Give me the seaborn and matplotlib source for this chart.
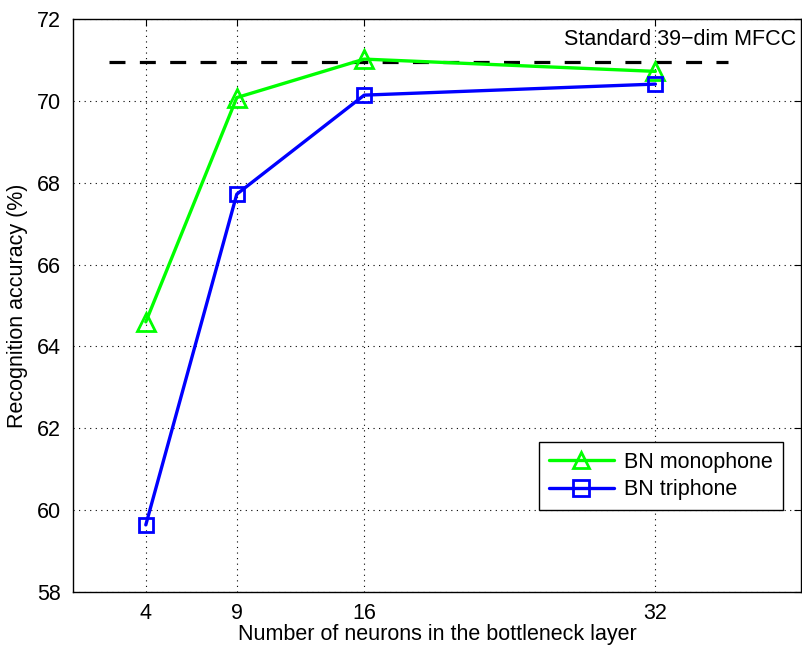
import matplotlib
matplotlib.use("Agg")
import matplotlib.pyplot as plt
import seaborn as sns
import pandas as pd

neurons = [4, 9, 16, 32]
mono = [64.6, 70.08, 71.02, 70.72]
tri = [59.64, 67.72, 70.14, 70.41]
baseline_x = [2, 36]
baseline_y = [70.95, 70.95]
series_names = ["BN monophone", "BN triphone"]
xticks = [4, 9, 16, 32]
yticks = [58, 60, 62, 64, 66, 68, 70, 72]

sns.set_theme(style="white")
plt.rcParams['font.family'] = ['Liberation Sans', 'DejaVu Sans']
plt.rcParams['text.color'] = 'black'
plt.rcParams['axes.labelcolor'] = 'black'

FS = 15.5

df = pd.DataFrame({
    "x": neurons * 2,
    "y": mono + tri,
    "series": [series_names[0]] * 4 + [series_names[1]] * 4,
})

fig = plt.figure(figsize=(8.02, 6.48), dpi=100)
ax = fig.add_axes([73/802, 1-592/648, 728/802, 573/648])

ax.plot(baseline_x, baseline_y, color="black", linestyle=(0, (5, 4.5)), linewidth=2.3, zorder=2)

sns.lineplot(data=df, x="x", y="y", hue="series", style="series",
             palette={series_names[0]: "#00ff00", series_names[1]: "#0000ff"},
             markers={series_names[0]: "^", series_names[1]: "s"},
             dashes=False, markersize=11, linewidth=2.4,
             markerfacecolor="none", markeredgewidth=2.0, ax=ax, zorder=3)
for line in ax.lines[1:]:
    line.set_markerfacecolor("none")
    line.set_markeredgecolor(line.get_color())
for line, ms in zip(ax.lines[1:3], [13, 9.5]):
    line.set_markersize(ms)

ax.set_xlim(0, 40)
ax.set_ylim(58, 72)
ax.set_xticks(xticks)
ax.set_yticks(yticks)
ax.grid(True, color="black", linestyle=(0, (1, 4)), linewidth=0.8)
ax.tick_params(direction="in", top=True, right=True, length=5, width=0.8,
               labelsize=FS, colors="black", pad=9)
ax.tick_params(axis="x", pad=8)
for s in ax.spines.values():
    s.set_color("black")
    s.set_linewidth(1.0)
ax.set_xlabel("Number of neurons in the bottleneck layer", fontsize=FS, labelpad=0, color="black")
ax.set_ylabel("Recognition accuracy (%)", fontsize=FS, labelpad=6, color="black")

ax.text(27.0, 71.5, "Standard 39\u2212dim MFCC", fontsize=FS, va="center", ha="left",
        color="black", clip_on=False)

h, l = ax.get_legend_handles_labels()
for hh in h:
    hh.set_markerfacecolor("none")
leg = ax.legend(h, l, loc="lower right", bbox_to_anchor=(0.975, 0.143), fontsize=FS,
                frameon=True, fancybox=False, edgecolor="black", framealpha=1,
                handlelength=3.0, borderpad=0.45, labelspacing=0.3, handletextpad=0.5,
                borderaxespad=0)
leg.get_frame().set_linewidth(1.0)
for t in leg.get_texts():
    t.set_color("black")

fig.savefig("out.png", dpi=100)
